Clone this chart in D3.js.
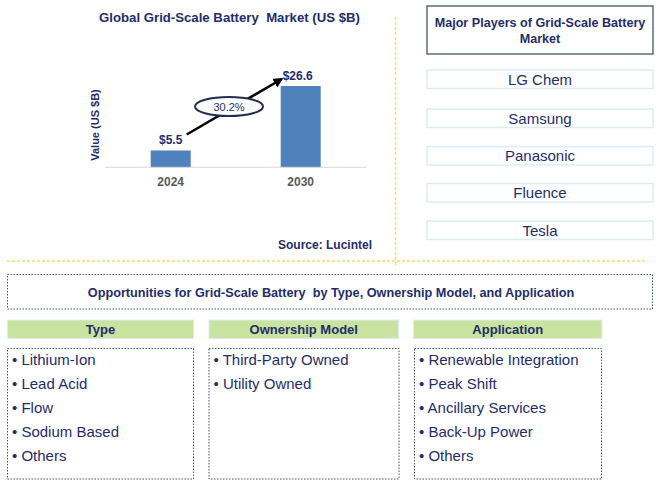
<!DOCTYPE html>
<html><head><meta charset="utf-8">
<script src="https://cdn.jsdelivr.net/npm/d3@7"></script>
<style>body{margin:0;background:#fff;}svg{display:block;font-family:"Liberation Sans",Arial,sans-serif;}svg text{white-space:pre;}</style>
</head><body>
<svg id="c" width="658" height="488"></svg>
<script>
const years = ["2024", "2030"];
const values = [5.5, 26.6];
const valueLabels = ["$5.5", "$26.6"];
const cagr = "30.2%";
const chartTitle = "Global Grid-Scale Battery  Market (US $B)";
const yLabel = "Value (US $B)";
const source = "Source: Lucintel";
const playersTitle = ["Major Players of Grid-Scale Battery", "Market"];
const players = ["LG Chem", "Samsung", "Panasonic", "Fluence", "Tesla"];
const oppTitle = "Opportunities for Grid-Scale Battery  by Type, Ownership Model, and Application";
const segHeaders = ["Type", "Ownership Model", "Application"];
const segType = ["Lithium-Ion", "Lead Acid", "Flow", "Sodium Based", "Others"];
const segOwnership = ["Third-Party Owned", "Utility Owned"];
const segApplication = ["Renewable Integration", "Peak Shift", "Ancillary Services", "Back-Up Power", "Others"];

const navy = "#1F2D6B";
const svg = d3.select("#c");
const defs = svg.append("defs");
defs.append("marker").attr("id","ah").attr("viewBox","0 0 10 10").attr("refX",8).attr("refY",5)
  .attr("markerWidth",4).attr("markerHeight",4).attr("orient","auto")
  .append("path").attr("d","M0,0 L10,5 L0,10 z").attr("fill","#000");

// Chart
const x = d3.scalePoint().domain(years).range([170.7, 300.7]);
const y = d3.scaleLinear().domain([0, 26.6]).range([167.3, 86]);
const bw = 40;

svg.append("text").attr("x",229.5).attr("y",22).attr("text-anchor","middle")
  .attr("font-size",13.2).attr("font-weight","bold").attr("fill",navy).text(chartTitle);

svg.selectAll("rect.bar").data(values).join("rect").attr("class","bar")
  .attr("x",(d,i)=>x(years[i])-bw/2).attr("width",bw)
  .attr("y",d=>y(d)).attr("height",d=>y(0)-y(d)).attr("fill","#4F81BD");

const xAxis = svg.append("g").attr("transform",`translate(0,${y(0)})`);
xAxis.append("line").attr("x1",105).attr("x2",366.5).attr("stroke","#D9D9D9").attr("stroke-width",1);
xAxis.selectAll("text").data(years).join("text").attr("x",d=>x(d)).attr("y",18.5)
  .attr("text-anchor","middle").attr("font-size",12).attr("font-weight","bold").attr("fill","#595959").text(d=>d);

svg.selectAll("text.vl").data(values).join("text").attr("class","vl")
  .attr("x",(d,i)=>x(years[i]) + (i===1?-3:0)).attr("y",d=>y(d)-6)
  .attr("text-anchor","middle").attr("font-size",12).attr("font-weight","bold").attr("fill",navy)
  .text((d,i)=>valueLabels[i]);

svg.append("text").attr("transform","translate(99,125) rotate(-90)").attr("text-anchor","middle")
  .attr("font-size",11).attr("font-weight","bold").attr("fill",navy).text(yLabel);

// CAGR arrow
const ax1 = x(years[0]) + 16, ay1 = y(values[0]) - 16;
const ax2 = x(years[1]) - 19, ay2 = y(values[1]) - 7;
svg.append("line").attr("x1",ax1).attr("y1",ay1).attr("x2",ax2).attr("y2",ay2)
  .attr("stroke","#000").attr("stroke-width",2.5).attr("marker-end","url(#ah)");
svg.append("ellipse").attr("cx",229).attr("cy",106.5).attr("rx",34).attr("ry",9.5)
  .attr("fill","#fff").attr("stroke","#1F2D4F").attr("stroke-width",2);
svg.append("text").attr("x",229).attr("y",110.5).attr("text-anchor","middle")
  .attr("font-size",11).attr("fill",navy).text(cagr);

svg.append("text").attr("x",372).attr("y",249).attr("text-anchor","end")
  .attr("font-size",12).attr("font-weight","bold").attr("fill",navy).text(source);

// separators
svg.append("line").attr("x1",395.5).attr("x2",395.5).attr("y1",17).attr("y2",266)
  .attr("stroke","#FFD966").attr("stroke-width",1.5).attr("stroke-dasharray","3,2");
svg.append("line").attr("x1",7).attr("x2",646).attr("y1",261).attr("y2",261)
  .attr("stroke","#FFD966").attr("stroke-width",1.5).attr("stroke-dasharray","3,2");

// Players
svg.append("rect").attr("x",427).attr("y",6).attr("width",226).attr("height",48)
  .attr("fill","#fff").attr("stroke","#44546A").attr("stroke-width",1.3);
svg.selectAll("text.pt").data(playersTitle).join("text").attr("class","pt")
  .attr("x",540).attr("y",(d,i)=>26.5+i*16).attr("text-anchor","middle")
  .attr("font-size",12.6).attr("font-weight","bold").attr("fill",navy).text(d=>d);
const py = [70, 109, 146.5, 183.5, 221];
const pg = svg.selectAll("g.pl").data(players).join("g").attr("class","pl")
  .attr("transform",(d,i)=>`translate(427,${py[i]})`);
pg.append("rect").attr("width",226).attr("height",18.5).attr("fill","#fff")
  .attr("stroke","#DDEBF7").attr("stroke-width",1.5);
pg.append("text").attr("x",113).attr("y",14.5).attr("text-anchor","middle")
  .attr("font-size",15).attr("fill",navy).text(d=>d);

// Opportunities
svg.append("rect").attr("x",7.5).attr("y",274.5).attr("width",645).attr("height",34.5)
  .attr("fill","none").attr("stroke","#44546A").attr("stroke-width",1).attr("stroke-dasharray","1.5,1.5");
svg.append("text").attr("x",331).attr("y",296.5).attr("text-anchor","middle")
  .attr("font-size",12.7).attr("font-weight","bold").attr("fill",navy).text(oppTitle);

const cols = [
  {hx:7.5, hw:186, bx:7.5, bw:186, items:segType},
  {hx:209, hw:189.5, bx:209, bw:190, items:segOwnership},
  {hx:413.5, hw:188.5, bx:414.5, bw:187, items:segApplication}
];
cols.forEach((c,ci)=>{
  svg.append("rect").attr("x",c.hx).attr("y",320).attr("width",c.hw).attr("height",18.5)
    .attr("fill","#C9E3A0").attr("stroke","#DDEBF7").attr("stroke-width",1);
  svg.append("text").attr("x",c.hx+c.hw/2).attr("y",334).attr("text-anchor","middle")
    .attr("font-size",13).attr("font-weight","bold").attr("fill",navy).text(segHeaders[ci]);
  svg.append("rect").attr("x",c.bx).attr("y",348.5).attr("width",c.bw).attr("height",130.5)
    .attr("fill","none").attr("stroke","#44546A").attr("stroke-width",1).attr("stroke-dasharray","1.5,1.5");
  svg.selectAll(null).data(c.items).join("text")
    .attr("x",c.bx+4.5).attr("y",(d,i)=>364.5+i*24)
    .attr("font-size",15).attr("fill",navy).text(d=>"\u2022 "+d);
});
</script>
</body></html>
